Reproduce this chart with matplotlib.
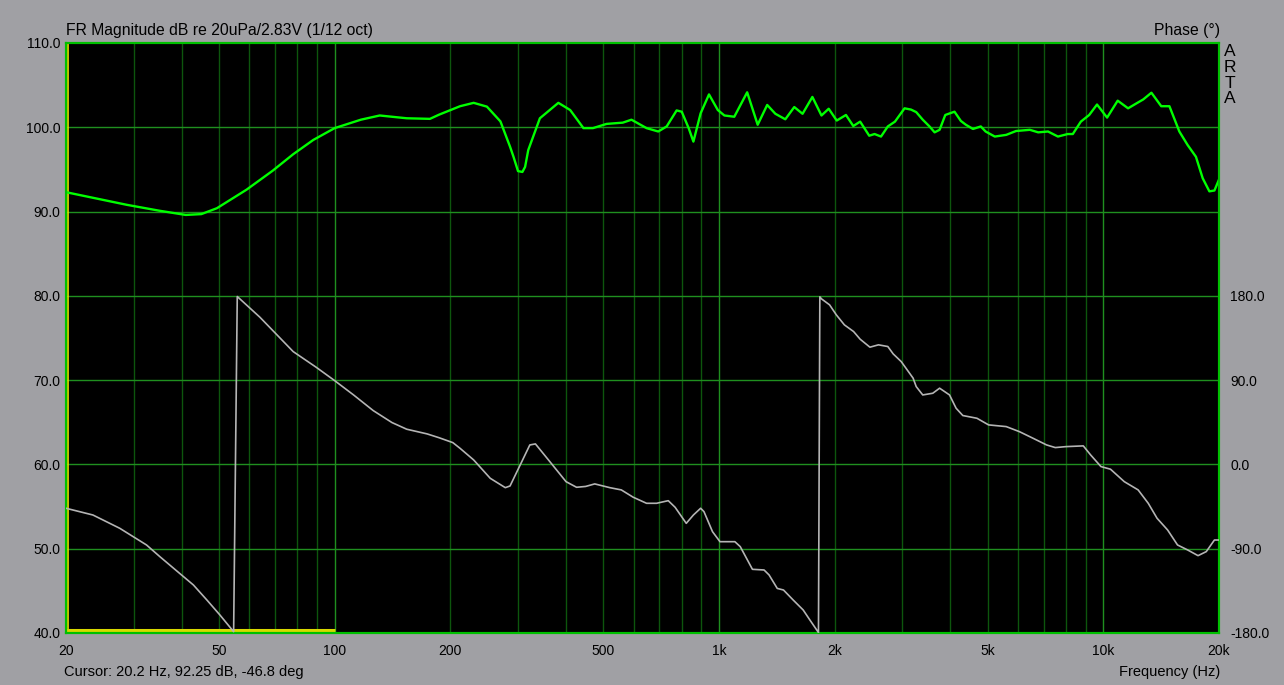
import numpy as np
import matplotlib
matplotlib.use("Agg")
import matplotlib.pyplot as plt
import matplotlib.ticker as mticker

plt.rc('font', family=['Liberation Sans', 'DejaVu Sans'], size=10)

W, H = 1284, 685

# magnitude, 1/12 oct smoothed
freq_mag = [20, 28.8, 35, 41, 45, 49.4, 59, 69, 78, 88, 100, 117, 131, 154, 177, 187,
            212, 230, 249, 270, 286, 292, 300, 308, 313, 319, 342, 382, 410, 444, 470,
            510, 562, 592, 648, 695, 731, 776, 800, 834, 858, 896, 942, 993, 1033, 1096,
            1184, 1261, 1335, 1402, 1488, 1570, 1650, 1750, 1848, 1930, 2025, 2140, 2236,
            2330, 2460, 2540, 2640, 2750, 2870, 3040, 3160, 3260, 3390, 3530, 3640,
            3750, 3880, 4100, 4260, 4390, 4580, 4800, 4940, 5220, 5590, 5930, 6440,
            6770, 7180, 7620, 8080, 8330, 8740, 9190, 9630, 10230, 10900, 11600, 12200,
            12700, 13340, 14150, 14860, 15770, 16570, 17420, 18140, 18880, 19460, 20000]
mag_db = [92.3, 90.8, 90.1, 89.6, 89.7, 90.4, 92.6, 94.85, 96.8, 98.5, 99.9, 100.9, 101.4,
          101.07, 101.0, 101.5, 102.5, 102.9, 102.45, 100.7, 97.7, 96.5, 94.8, 94.7, 95.3,
          97.3, 101.07, 102.9, 102.05, 99.9, 99.9, 100.4, 100.55, 100.9, 99.9, 99.5,
          100.1, 102.0, 101.85, 99.9, 98.3, 101.66, 103.9, 102.05, 101.4, 101.25, 104.15,
          100.3, 102.65, 101.6, 100.95, 102.4, 101.6, 103.6, 101.4, 102.2, 100.8, 101.46,
          100.15, 100.67, 99.0, 99.2, 98.9, 100.1, 100.67, 102.25, 102.1, 101.8, 100.9,
          100.1, 99.4, 99.7, 101.46, 101.85, 100.75, 100.3, 99.8, 100.1, 99.5, 98.9,
          99.1, 99.56, 99.7, 99.4, 99.5, 98.9, 99.2, 99.2, 100.67, 101.46, 102.7,
          101.15, 103.16, 102.25, 102.84, 103.3, 104.1, 102.5, 102.5, 99.5, 97.9, 96.5,
          93.95, 92.4, 92.5, 93.8]

# phase in degrees, wrapped to +-180
freq_phase = [20, 23.5, 27.6, 32.4, 35.1, 39.5, 42.9, 46.5, 50.3, 54.6, 55.8, 63.9, 78,
              89.5, 100, 112, 126, 141, 154, 174, 187, 203, 212, 230, 254, 278, 286, 304,
              322, 333, 363, 400, 426, 450, 475, 520, 557, 598, 648, 688, 738, 769, 822,
              858, 896, 914, 962, 1006, 1100, 1136, 1222, 1310, 1350, 1418, 1472, 1560,
              1656, 1724, 1815, 1830, 1848, 1940, 2020, 2120, 2240, 2330, 2470, 2600,
              2750, 2840, 2980, 3200, 3260, 3390, 3600, 3750, 3980, 4140, 4310, 4690,
              5030, 5590, 6050, 6560, 7120, 7500, 7990, 8870, 9270, 9860, 10440, 11340,
              12320, 13090, 13800, 14700, 15600, 16570, 17640, 18530, 19460, 20000]
phase_deg = [-46.8, -54, -68.2, -86, -98.5, -116.3, -128.7, -144.7, -160.8, -178.6, 179.3,
             157.2, 120.5, 103.8, 89.5, 74.2, 57.5, 44.7, 37.6, 32.6, 28.5, 23.3, 17.2,
             4.8, -14.8, -24.8, -23, -0.5, 20.8, 21.9, 3, -18.4, -24.4, -23.5, -20.8,
             -24.8, -27.2, -35, -41.5, -41.5, -38.7, -45.8, -62.9, -54, -46.8, -50.4,
             -71.8, -82.5, -82.5, -87.8, -112, -112.7, -118, -132.4, -134.1, -144.8,
             -155.4, -166.1, -179.5, 179.0, 176.8, 170.4, 159.7, 149, 141.9, 133.7, 125.2,
             127.7, 125.9, 118, 109.8, 92.1, 83.1, 74.2, 76, 81.4, 74.2, 60, 52.2, 49.3,
             42.2, 40.4, 35, 28, 20.8, 18, 19, 19.8, 10.1, -2.3, -5.1, -18.4, -27.2,
             -41.5, -57.5, -70, -86, -91.3, -97.4, -93.1, -80.7, -80.7]

x_ticks = [20, 50, 100, 200, 500, 1000, 2000, 5000, 10000, 20000]
x_tick_labels = ["20", "50", "100", "200", "500", "1k", "2k", "5k", "10k", "20k"]
db_ticks = [40, 50, 60, 70, 80, 90, 100, 110]
phase_ticks = [-180, -90, 0, 90, 180]
decades = [100, 1000, 10000]
minor_lines = [30, 40, 50, 60, 70, 80, 90, 200, 300, 400, 500, 600, 700, 800, 900,
               2000, 3000, 4000, 5000, 6000, 7000, 8000, 9000]

cursor_freq = 20.2
marker_range = [20, 100]
marker_level = 40.3

bg = '#a0a0a4'
fig = plt.figure(figsize=(W / 100, H / 100), dpi=100, facecolor=bg)
ax = fig.add_axes([66 / W, 1 - 633 / H, (1219 - 66) / W, (633 - 43) / H])
ax.set_facecolor('black')
ax.set_xscale('log')
ax.set_xlim(20, 20000)
ax.set_ylim(40, 110)

for f in minor_lines:
    ax.axvline(f, color='#0d560d', lw=1, zorder=1)
for f in decades:
    ax.axvline(f, color='#1f8f1f', lw=1, zorder=1)
for d in db_ticks[1:-1]:
    ax.axhline(d, color='#1f8f1f', lw=1, zorder=1)

ax.axvline(cursor_freq, color='#e6e600', lw=1.2, zorder=2)
ax.plot(marker_range, [marker_level, marker_level], color='#d8d800', lw=2.2, zorder=2,
        solid_capstyle='butt')

ax.plot(freq_mag, mag_db, color='#00ff00', lw=1.7, zorder=4)

ax.xaxis.set_major_locator(mticker.FixedLocator(x_ticks))
ax.xaxis.set_major_formatter(mticker.FixedFormatter(x_tick_labels))
ax.xaxis.set_minor_locator(mticker.NullLocator())
ax.yaxis.set_major_locator(mticker.FixedLocator(db_ticks))
ax.yaxis.set_major_formatter(mticker.FormatStrFormatter('%.1f'))
ax.tick_params(axis='both', length=0, labelsize=10, colors='black')
ax.tick_params(axis='x', pad=8)
ax.tick_params(axis='y', pad=4)

ax2 = ax.twinx()
ax2.set_ylim(-180, 450)
ax2.plot(freq_phase, phase_deg, color='#b4b4b4', lw=1.2, zorder=3)
ax2.yaxis.set_major_locator(mticker.FixedLocator(phase_ticks))
ax2.yaxis.set_major_formatter(mticker.FormatStrFormatter('%.1f'))
ax2.tick_params(axis='y', length=0, labelsize=10, colors='black', pad=8)

for a in (ax, ax2):
    for s in a.spines.values():
        s.set_color('#00c000')
        s.set_linewidth(1.5)

def px(x, y):
    return x / W, 1 - y / H

fig.text(*px(66, 30), "FR Magnitude dB re 20uPa/2.83V (1/12 oct)", fontsize=11.3,
         ha='left', va='center')
fig.text(*px(1220, 30), "Phase (\u00b0)", fontsize=11.3, ha='right', va='center')
for i, ch in enumerate("ARTA"):
    fig.text(*px(1230, 52 + i * 15.5), ch, fontsize=12.5, ha='center', va='center')
fig.text(*px(64, 672), "Cursor: 20.2 Hz, 92.25 dB, -46.8 deg", fontsize=10.5,
         ha='left', va='center')
fig.text(*px(1220, 672), "Frequency (Hz)", fontsize=10.5, ha='right', va='center')

fig.savefig("out.png", dpi=100, facecolor=bg)
